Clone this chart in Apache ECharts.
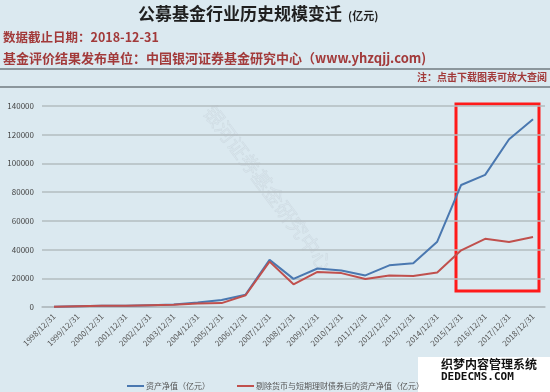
<!DOCTYPE html>
<html><head><meta charset="utf-8">
<script src="https://cdn.jsdelivr.net/npm/echarts@6/dist/echarts.min.js"></script>
<style>html,body{margin:0;padding:0;background:#dbe9f0;}#c{width:550px;height:392px;}</style>
</head><body><div id="c"></div>
<script>
var categories = ['1998/12/31','1999/12/31','2000/12/31','2001/12/31','2002/12/31','2003/12/31','2004/12/31','2005/12/31','2006/12/31','2007/12/31','2008/12/31','2009/12/31','2010/12/31','2011/12/31','2012/12/31','2013/12/31','2014/12/31','2015/12/31','2016/12/31','2017/12/31','2018/12/31'];
var netAssets = [100, 500, 850, 800, 1300, 1700, 3200, 4900, 8600, 32800, 19600, 26800, 25400, 22000, 29000, 30500, 45500, 85000, 92000, 116800, 130800];
var netAssetsExMoney = [100, 500, 850, 800, 1300, 1600, 2500, 2700, 8200, 31600, 15800, 24400, 23600, 19500, 22000, 21600, 24000, 39500, 47500, 45300, 48800];
var seriesNames = ['资产净值（亿元）', '剔除货币与短期理财债券后的资产净值（亿元）'];
var yTicks = [0, 20000, 40000, 60000, 80000, 100000, 120000, 140000];

var F = '"Noto Sans CJK SC", sans-serif';
var chart = echarts.init(document.getElementById('c'));
chart.setOption({
  backgroundColor: '#dbe9f0',
  animation: false,
  textStyle: {fontFamily: F},
  grid: {left: 42, right: 5, top: 106, bottom: 85},
  legend: {
    left: 122, top: 377, itemWidth: 17, itemHeight: 2, itemGap: 27,
    icon: 'rect',
    textStyle: {fontSize: 8, color: '#555', fontFamily: F, padding: [0,0,0,-3]},
    data: seriesNames
  },
  xAxis: {
    type: 'category', data: categories, boundaryGap: true,
    axisLine: {lineStyle: {color: '#b3bcc1', width: 1.5}},
    axisTick: {show: false},
    axisLabel: {rotate: 45, fontSize: 8, color: '#555', margin: 8, interval: 0}
  },
  yAxis: {
    type: 'value', min: yTicks[0], max: yTicks[yTicks.length - 1], interval: 20000,
    axisLine: {show: false}, axisTick: {show: false},
    axisLabel: {fontSize: 8, color: '#444', margin: 8, formatter: function (v) { return String(v); }},
    splitLine: {lineStyle: {color: '#b3bcc1', width: 1.5}}
  },
  series: [
    {name: seriesNames[0], type: 'line', data: netAssets, symbol: 'none',
     lineStyle: {color: '#4a78b0', width: 2}, itemStyle: {color: '#4a78b0'}},
    {name: seriesNames[1], type: 'line', data: netAssetsExMoney, symbol: 'none',
     lineStyle: {color: '#c0504d', width: 2}, itemStyle: {color: '#c0504d'}}
  ],
  graphic: [
    {type: 'text', left: 138, top: 5, style: {text: '公募基金行业历史规模变迁', font: 'bold 17px ' + F, fill: '#1f1f1f'}},
    {type: 'text', left: 348, top: 10, style: {text: '(亿元)', font: 'bold 11px ' + F, fill: '#1f1f1f'}},
    {type: 'text', left: 3, top: 31, style: {text: '数据截止日期：2018-12-31', font: 'bold 12.5px ' + F, fill: '#a23a3a'}},
    {type: 'text', left: 3, top: 52, style: {text: '基金评价结果发布单位：中国银河证券基金研究中心（www.yhzqjj.com)', font: 'bold 13px ' + F, fill: '#a23a3a'}},
    {type: 'line', shape: {x1: 0, y1: 69, x2: 550, y2: 69}, style: {stroke: '#707a80', lineWidth: 1.5}},
    {type: 'line', shape: {x1: 0, y1: 87, x2: 550, y2: 87}, style: {stroke: '#707a80', lineWidth: 1.5}},
    {type: 'text', right: 3, top: 72, style: {text: '注：点击下载图表可放大查阅', font: 'bold 10px ' + F, fill: '#a23a3a'}},
    {type: 'text', x: 268, y: 188, rotation: -0.93, originX: 0, originY: 0, z: -1,
     style: {text: '银河证券基金研究中心', font: '20px ' + F, fill: 'rgba(200,210,215,0.08)', stroke: 'rgba(150,160,165,0.16)', lineWidth: 0.6, align: 'center', verticalAlign: 'middle'}},
    {type: 'rect', shape: {x: 456, y: 104, width: 83, height: 187}, style: {fill: 'none', stroke: '#ff1a1a', lineWidth: 3}},
    {type: 'rect', shape: {x: 418, y: 357, width: 132, height: 35}, style: {fill: '#ffffff'}},
    {type: 'text', left: 441, top: 358, style: {text: '织梦内容管理系统', font: 'bold 12px ' + F, fill: '#111'}},
    {type: 'text', left: 441, top: 372, style: {text: 'DEDECMS.COM', font: 'bold 11px "DejaVu Sans Mono", monospace', fill: '#111'}}
  ]
});
</script></body></html>
